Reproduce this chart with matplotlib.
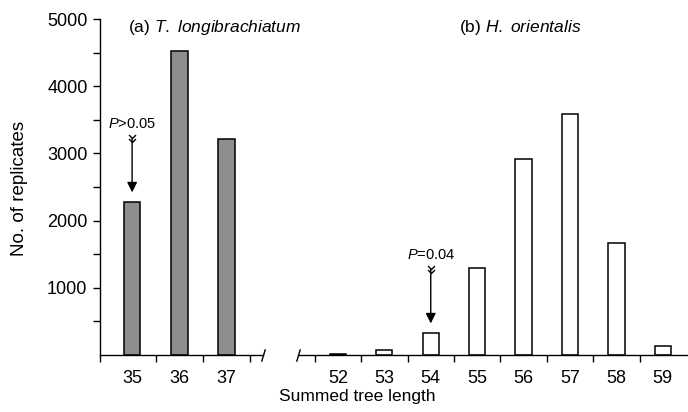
import matplotlib
matplotlib.use("Agg")
import matplotlib.pyplot as plt
from matplotlib.path import Path

plt.rcParams['font.family'] = ['Liberation Sans', 'DejaVu Sans']
plt.rcParams['mathtext.fontset'] = 'custom'
plt.rcParams['mathtext.rm'] = 'Liberation Sans'
plt.rcParams['mathtext.it'] = 'Liberation Sans:italic'

# data
len_a = [35, 36, 37]
reps_a = [2270, 4520, 3210]
len_b = [52, 53, 54, 55, 56, 57, 58, 59]
reps_b = [15, 70, 320, 1290, 2910, 3580, 1670, 130]
title_a = "(a) $T.$ $longibrachiatum$"
title_b = "(b) $H.$ $orientalis$"
p_a = "$P$>0.05"
p_b = "$P$=0.04"
y_major = [1000, 2000, 3000, 4000, 5000]
y_minor = [500, 1500, 2500, 3500, 4500]

chevron = Path([(-1, 1), (0, 0), (1, 1)], [Path.MOVETO, Path.LINETO, Path.LINETO])
slash = Path([(-0.3, -1), (0.3, 1)], [Path.MOVETO, Path.LINETO])

fig = plt.figure(figsize=(6.88, 4.12), dpi=100)
ax_a = fig.add_axes([100 / 688, 57 / 412, 163 / 688, 336 / 412])
ax_b = fig.add_axes([298 / 688, 57 / 412, 389 / 688, 336 / 412], sharey=ax_a)
ax_a.patch.set_visible(False)
ax_b.patch.set_visible(False)

ax_a.bar(len_a, reps_a, width=0.35, color='#8e8e8e', edgecolor='black', linewidth=1.1)
ax_b.bar(len_b, reps_b, width=0.35, color='white', edgecolor='black', linewidth=1.1)

ax_a.set_xlim(34.32, 37.77)
ax_b.set_xlim(51.14, 59.52)
ax_a.set_ylim(0, 5000)

for ax in (ax_a, ax_b):
    for s in ('top', 'right'):
        ax.spines[s].set_visible(False)
    ax.spines['bottom'].set_linewidth(1.0)
    ax.tick_params(axis='x', which='major', length=0, pad=11, labelsize=13)
    ax.tick_params(axis='x', which='minor', length=5, width=1, direction='out')

ax_a.set_xticks(len_a)
ax_a.set_xticks([34.32] + [v + 0.5 for v in len_a], minor=True)
ax_b.set_xticks(len_b)
ax_b.set_xticks([v - 0.5 for v in len_b], minor=True)

ax_a.set_yticks(y_major)
ax_a.set_yticks(y_minor, minor=True)
ax_a.tick_params(axis='y', which='both', length=5, width=1, pad=4, labelsize=13)
ax_a.spines['left'].set_linewidth(1.0)
ax_b.spines['left'].set_visible(False)
ax_b.tick_params(axis='y', which='both', left=False, labelleft=False)

# axis break marks
ax_a.plot([1], [0], transform=ax_a.transAxes, marker=slash, ms=9, mew=1, color='black', clip_on=False)
ax_b.plot([0], [0], transform=ax_b.transAxes, marker=slash, ms=9, mew=1, color='black', clip_on=False)

ax_a.text(0.172, 0.976, title_a, transform=ax_a.transAxes, ha='left', va='center', fontsize=12.5)
ax_b.text(0.414, 0.976, title_b, transform=ax_b.transAxes, ha='left', va='center', fontsize=12.5)


def p_arrow(ax, x, top, label):
    tip = top + 150
    tail = tip + 810
    ax.annotate("", xy=(x, tip), xytext=(x, tail),
                arrowprops=dict(arrowstyle='-|>', color='black', lw=1,
                                mutation_scale=15, shrinkA=0, shrinkB=0))
    ax.plot([x, x], [tail, tail - 55], ls='none', marker=chevron, ms=5,
            mfc='none', mec='black', mew=1.0)
    ax.text(x, tail + 210, label, ha='center', va='center', fontsize=10.5)


p_arrow(ax_a, len_a[0], reps_a[0], p_a)
p_arrow(ax_b, len_b[2], reps_b[2], p_b)

fig.text(357 / 688, 1 - 397 / 412, "Summed tree length", ha='center', va='center', fontsize=12.5)
fig.text(20 / 688, 1 - 188 / 412, "No. of replicates", ha='center', va='center',
         rotation=90, fontsize=13.5)

fig.savefig("out.png", dpi=100)
